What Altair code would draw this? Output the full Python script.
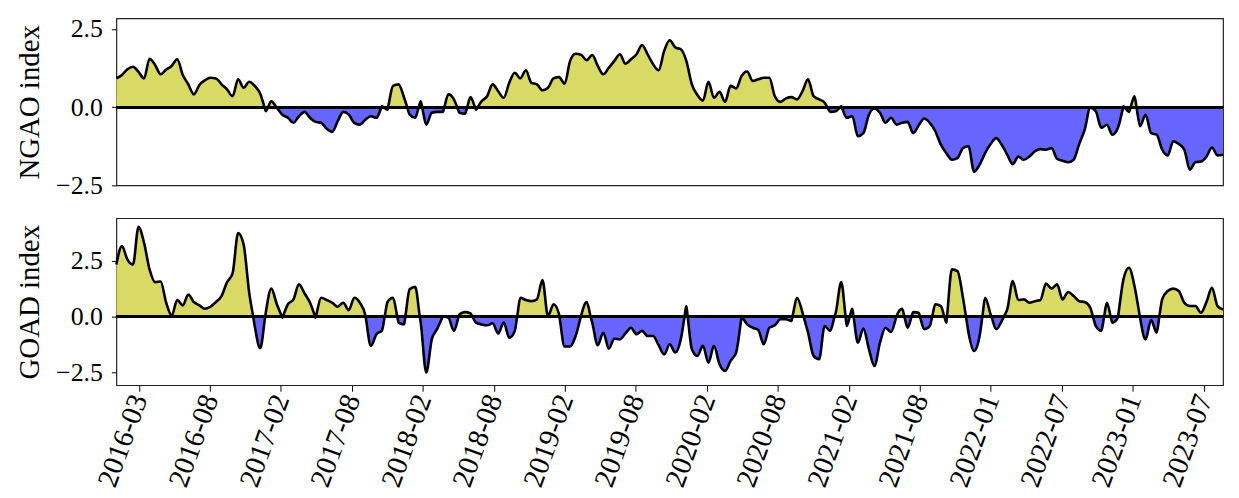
import altair as alt
import pandas as pd

# sampling of the two daily indices
start_date = "2016-01-04"
end_date = "2023-09-10"
n_points = 201

ngao = [0.92, 1.03, 1.21, 1.29, 1.13, 0.92, 1.55, 1.35, 1.05, 1.2,
        1.32, 1.53, 1.03, 0.73, 0.41, 0.71, 0.86, 0.94, 0.92, 0.73,
        0.57, 0.35, 0.89, 0.62, 0.81, 0.68, 0.43, -0.13, 0.19, -0.02,
        -0.24, -0.34, -0.5, -0.29, -0.15, -0.34, -0.47, -0.5, -0.69, -0.79,
        -0.45, -0.15, -0.24, -0.5, -0.56, -0.4, -0.29, -0.34, 0.03, -0.08,
        0.68, 0.73, 0.3, -0.24, -0.34, 0.19, -0.56, -0.18, -0.15, -0.15,
        0.41, 0.25, -0.18, -0.21, 0.32, -0.08, 0.19, 0.35, 0.73, 0.51,
        0.3, 0.78, 1.1, 0.92, 1.18, 0.78, 0.73, 0.54, 0.62, 0.92,
        0.96, 0.75, 1.48, 1.71, 1.67, 1.5, 1.67, 1.32, 1.05, 1.26,
        1.48, 1.69, 1.39, 1.53, 1.69, 1.99, 1.69, 1.37, 1.18, 1.8,
        2.14, 1.91, 1.85, 1.48, 0.73, 0.39, 0.21, 0.81, 0.3, 0.49,
        0.17, 0.68, 0.6, 1.0, 1.14, 0.84, 0.89, 0.94, 0.94, 0.35,
        0.17, 0.28, 0.32, 0.25, 0.51, 0.89, 0.35, 0.25, 0.14, -0.15,
        -0.13, 0.03, -0.34, -0.29, -0.93, -0.83, -0.24, -0.04, -0.18, -0.5,
        -0.34, -0.56, -0.5, -0.47, -0.83, -0.58, -0.36, -0.5, -0.77, -1.2,
        -1.47, -1.68, -1.63, -1.31, -1.25, -2.06, -1.84, -1.47, -1.18, -0.99,
        -1.2, -1.52, -1.82, -1.58, -1.68, -1.58, -1.41, -1.34, -1.36, -1.31,
        -1.65, -1.71, -1.76, -1.68, -1.18, -0.72, -0.02, -0.13, -0.66, -0.56,
        -0.88, -0.66, 0.03, -0.15, 0.35, -0.61, -0.24, -0.83, -0.88, -1.36,
        -1.54, -1.09, -1.18, -1.36, -2.0, -1.76, -1.74, -1.58, -1.29, -1.54,
        -1.52]

goad = [2.32, 3.14, 2.54, 2.32, 4.0, 3.29, 2.1, 1.53, 1.56, 0.61,
        0.04, 0.73, 0.49, 0.98, 0.64, 0.49, 0.34, 0.43, 0.64, 0.91,
        1.53, 1.92, 3.73, 3.21, 1.06, -0.43, -1.43, 0.16, 1.24, 0.54,
        -0.06, 0.54, 0.76, 1.43, 1.03, 0.61, -0.06, 0.83, 0.73, 0.61,
        0.43, 0.61, 0.28, 0.83, 0.61, 0.04, -1.32, -0.8, -0.63, 0.64,
        0.83, -0.28, -0.36, 1.21, 1.32, -0.28, -2.51, -1.03, -0.55, 0.01,
        -0.06, -0.65, 0.09, 0.19, 0.13, -0.28, -0.36, -0.4, -0.31, -0.77,
        -0.28, -0.95, -0.65, 0.83, 0.73, 0.68, 0.76, 1.62, 0.01, 0.54,
        0.09, -1.35, -1.35, -0.88, 0.04, 0.64, -0.28, -1.29, -0.73, -1.44,
        -1.0, -1.03, -0.76, -0.51, -0.8, -0.65, -0.88, -0.88, -1.29, -1.7,
        -1.25, -1.62, -1.03, 0.46, -1.47, -1.77, -1.32, -2.07, -1.32, -2.14,
        -2.44, -1.99, -1.62, 0.01, -0.36, -0.51, -0.61, -1.25, -0.51, -0.4,
        -0.13, -0.13, -0.21, 0.83, 0.16, -0.73, -1.77, -1.92, -0.43, -0.65,
        0.16, 1.53, -0.43, 0.34, -1.18, -0.55, -1.47, -2.22, -1.18, -0.51,
        -0.7, 0.01, 0.34, -0.51, 0.19, 0.16, -0.58, -0.43, 0.54, 0.46,
        -0.28, 2.1, 2.02, 0.83, -0.73, -1.55, -0.88, 0.83, 0.09, -0.58,
        -0.21, 0.31, 1.58, 0.73, 0.76, 0.61, 0.68, 0.73, 1.47, 1.24,
        1.43, 0.76, 1.09, 0.91, 0.68, 0.64, 0.39, -0.43, -0.65, 0.61,
        -0.28, -0.06, 1.65, 2.17, 1.35, -0.06, -1.03, -0.16, -0.73, 0.76,
        1.13, 1.24, 1.13, 0.61, 0.46, 0.46, 0.16, 0.64, 1.28, 0.46,
        0.31]

tick_dates = ["2016-03-01", "2016-08-28", "2017-02-24", "2017-08-23",
              "2018-02-19", "2018-08-18", "2019-02-14", "2019-08-13",
              "2020-02-09", "2020-08-07", "2021-02-03", "2021-08-02",
              "2022-01-29", "2022-07-28", "2023-01-24", "2023-07-23"]
y_ticks = [-2.5, 0.0, 2.5]

FONT = "Liberation Serif"
POS_COLOR = "#d9d966"
NEG_COLOR = "#6666ff"
INTERP = "monotone"

dates = pd.date_range(start_date, end_date, periods=n_points)


def with_crossings(vals):
    rows = []
    for k, v in enumerate(vals):
        if k > 0 and vals[k - 1] * v < 0:
            f = vals[k - 1] / (vals[k - 1] - v)
            tc = dates[k - 1] + (dates[k] - dates[k - 1]) * f
            rows.append((tc, 0.0))
        rows.append((dates[k], float(v)))
    df = pd.DataFrame(rows, columns=["date", "val"])
    df["pos"] = df["val"].clip(lower=0)
    df["neg"] = df["val"].clip(upper=0)
    df["zero"] = 0.0
    return df


def dt(s):
    y, m, d = (int(p) for p in s.split("-"))
    return alt.DateTime(year=y, month=m, date=d)


x_scale = alt.Scale(domain=[dt(start_date), dt(end_date)], nice=False)


def panel(vals, title, ydom, show_x):
    df = with_crossings(vals)
    ys = alt.Scale(domain=ydom, nice=False, zero=False)
    if show_x:
        xaxis = alt.Axis(values=[dt(s) for s in tick_dates], format="%Y-%m",
                         labelAngle=290, labelFontSize=29, labelFont=FONT,
                         labelColor="black", tickSize=6, tickColor="black",
                         labelPadding=4, labelOverlap=False, labelFlush=False,
                         title=None, grid=False, domain=False)
    else:
        xaxis = None
    x = alt.X("date:T", scale=x_scale, axis=xaxis)
    yaxis = alt.Axis(values=y_ticks, format=".1f", title=title,
                     titleFont=FONT, titleFontSize=29, titleFontWeight="normal",
                     titleColor="black", titlePadding=11,
                     labelFont=FONT, labelFontSize=26, labelColor="black",
                     labelPadding=9, tickSize=5, tickColor="black",
                     grid=False, domain=False)
    base = alt.Chart(df)
    pos = base.mark_area(color=POS_COLOR, interpolate=INTERP).encode(
        x=x, y=alt.Y("pos:Q", scale=ys, axis=yaxis), y2="zero:Q")
    neg = base.mark_area(color=NEG_COLOR, interpolate=INTERP).encode(
        x=x, y=alt.Y("neg:Q", scale=ys), y2="zero:Q")
    zero = base.mark_rule(color="black", strokeWidth=2.2).encode(
        y=alt.datum(0))
    line = base.mark_line(color="black", strokeWidth=2.6,
                          interpolate=INTERP).encode(
        x=x, y=alt.Y("val:Q", scale=ys))
    return alt.layer(pos, neg, zero, line).properties(width=1113, height=168)


top = panel(ngao, "NGAO index", [-2.5, 2.84], False)
bottom = panel(goad, "GOAD index", [-3.08, 4.39], True)

chart = alt.vconcat(top, bottom, spacing=33, bounds="flush").properties(
    padding={"left": 7, "top": 6, "right": 2, "bottom": 0}
).configure_view(stroke="#222222", strokeWidth=1.2)

chart.save("out.html", embed_options={"renderer": "svg", "actions": False})
